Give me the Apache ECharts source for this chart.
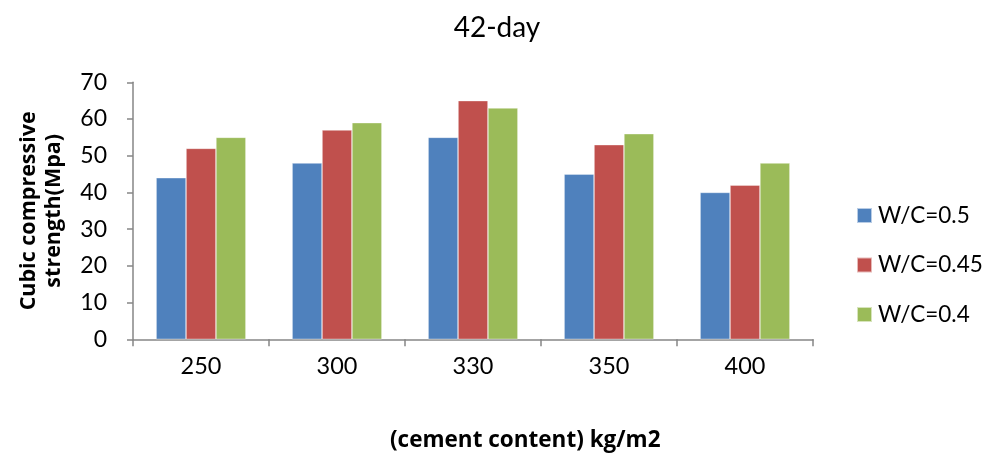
<!DOCTYPE html>
<html><head><meta charset="utf-8">
<script src="https://cdn.jsdelivr.net/npm/echarts@6/dist/echarts.min.js"></script>
<style>html,body{margin:0;padding:0;background:#fff}#c{width:989px;height:461px}</style>
</head><body><div id="c"></div>
<script>
const categories = ['250','300','330','350','400'];
const seriesNames = ['W/C=0.5','W/C=0.45','W/C=0.4'];
const wc05 = [44,48,55,45,40];
const wc045 = [52,57,65,53,42];
const wc04 = [55,59,63,56,48];
const colors = ['#4F81BD','#C0504D','#9BBB59'];
const FONT = 'Lato, "Open Sans", sans-serif';
const BFONT = '"Open Sans", sans-serif';
const chart = echarts.init(document.getElementById('c'));
const mk = (name, data, i) => ({
  name, type:'bar', data, barGap:'0%', barCategoryGap:'34%',
  itemStyle:{color:colors[i], borderColor:'rgba(255,255,255,0.6)', borderWidth:0.6},
  emphasis:{disabled:true}
});
chart.setOption({
  animation:false,
  title:{text:'42-day', left:492, textAlign:'center', top:9,
    textStyle:{fontFamily:FONT, fontSize:28, fontWeight:'normal', color:'#000'}},
  grid:{left:133, right:176, top:82.3, bottom:121.7, containLabel:false, outerBoundsMode:'none'},
  legend:{orient:'vertical', left:851, top:199, itemWidth:15, itemHeight:15, itemGap:26.5,
    icon:'rect', textStyle:{fontFamily:FONT, fontSize:22.5, lineHeight:22, color:'#000', padding:[0,0,0,1]},
    data:seriesNames},
  xAxis:{type:'category', data:categories,
    axisLine:{lineStyle:{color:'#868686', width:1.5}},
    axisTick:{show:true, length:7, alignWithLabel:false, lineStyle:{color:'#868686', width:1.5}},
    axisLabel:{fontFamily:FONT, fontSize:23.5, color:'#000', margin:15}},
  yAxis:{type:'value', min:0, max:70, interval:10,
    name:'Cubic compressive\nstrength(Mpa)', nameLocation:'middle', nameRotate:90, nameGap:67,
    nameTextStyle:{fontFamily:BFONT, fontWeight:'bold', fontSize:21.5, lineHeight:25, color:'#000', align:'center'},
    axisLine:{show:true, lineStyle:{color:'#868686', width:1.5}},
    axisTick:{show:true, length:6, inside:false, lineStyle:{color:'#868686', width:1.5}},
    splitLine:{show:false},
    axisLabel:{fontFamily:FONT, fontSize:23, color:'#000', margin:26}},
  graphic:[
    {type:'text', left:390, top:429,
      style:{text:'(cement content) kg/m2', font:'bold 22.5px '+BFONT, fill:'#000'}}
  ],
  series:[mk(seriesNames[0],wc05,0), mk(seriesNames[1],wc045,1), mk(seriesNames[2],wc04,2)]
});
</script></body></html>
